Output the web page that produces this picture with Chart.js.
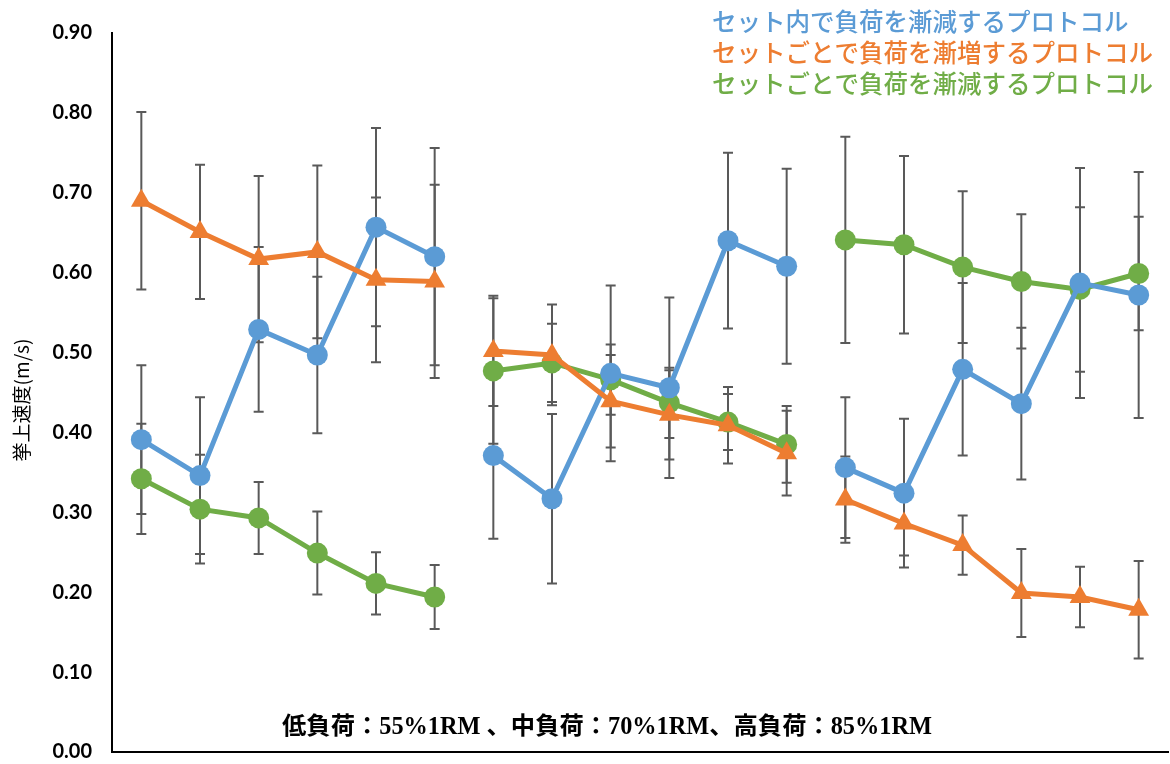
<!DOCTYPE html>
<html lang="ja">
<head>
<meta charset="utf-8">
<title>挙上速度</title>
<script src="https://cdn.jsdelivr.net/npm/chart.js@4.4.1/dist/chart.umd.min.js"></script>
<style>
  html, body { margin: 0; padding: 0; background: #fff; }
  #wrap { width: 1170px; height: 764px; position: relative; }
</style>
</head>
<body>
<div id="wrap"><canvas id="chart" width="1170" height="764"></canvas></div>
<script>
// カテゴリ（低・中・高負荷 × 6セット）
const categories = [
  '低1', '低2', '低3', '低4', '低5', '低6',
  '中1', '中2', '中3', '中4', '中5', '中6',
  '高1', '高2', '高3', '高4', '高5', '高6'
];
// 線を切る位置（この点の次で途切れる）
const groupBreaks = [5, 11];

const seriesNames = [
  'セット内で負荷を漸減するプロトコル',
  'セットごとで負荷を漸増するプロトコル',
  'セットごとで負荷を漸減するプロトコル'
];

// セット内で負荷を漸減
const withinDecrease = [0.391, 0.346, 0.529, 0.497, 0.657, 0.620,
                        0.371, 0.317, 0.474, 0.456, 0.640, 0.608,
                        0.356, 0.324, 0.479, 0.436, 0.587, 0.572];
const withinDecreaseSd = [0.093, 0.098, 0.103, 0.098, 0.124, 0.136,
                          0.104, 0.106, 0.110, 0.113, 0.110, 0.122,
                          0.088, 0.093, 0.108, 0.095, 0.144, 0.154];

// セットごとで負荷を漸増
const setIncrease = [0.690, 0.651, 0.617, 0.626, 0.591, 0.589,
                     0.502, 0.497, 0.439, 0.422, 0.409, 0.374,
                     0.316, 0.286, 0.259, 0.199, 0.194, 0.178];
const setIncreaseSd = [0.111, 0.084, 0.104, 0.108, 0.103, 0.121,
                       0.069, 0.063, 0.058, 0.056, 0.048, 0.053,
                       0.054, 0.040, 0.037, 0.055, 0.038, 0.061];

// セットごとで負荷を漸減
const setDecrease = [0.342, 0.304, 0.293, 0.249, 0.211, 0.194,
                     0.477, 0.487, 0.466, 0.437, 0.413, 0.385,
                     0.641, 0.635, 0.607, 0.589, 0.579, 0.599];
const setDecreaseSd = [0.069, 0.068, 0.045, 0.052, 0.039, 0.040,
                       0.091, 0.049, 0.044, 0.044, 0.035, 0.048,
                       0.129, 0.111, 0.095, 0.084, 0.103, 0.071];

const yTicks = [0.00, 0.10, 0.20, 0.30, 0.40, 0.50, 0.60, 0.70, 0.80, 0.90];
const yTitle = '挙上速度(m/s)';
const noteText = '低負荷：55%1RM 、中負荷：70%1RM、高負荷：85%1RM';

const colors = ['#5B9BD5', '#ED7D31', '#70AD47'];
const sdLists = [withinDecreaseSd, setIncreaseSd, setDecreaseSd];

function makeSet(i, values, shape, order) {
  return {
    label: seriesNames[i],
    data: values,
    borderColor: colors[i],
    backgroundColor: colors[i],
    borderWidth: 5,
    pointStyle: shape,
    pointRadius: shape === 'triangle' ? 12 : 10.5,
    pointBorderWidth: 0,
    pointHoverRadius: 10,
    tension: 0,
    order: order,
    segment: {
      borderColor: ctx => groupBreaks.includes(ctx.p0DataIndex) ? 'transparent' : undefined
    }
  };
}

// エラーバー
const errorBars = {
  id: 'errorBars',
  beforeDatasetsDraw(chart) {
    const ctx = chart.ctx;
    const y = chart.scales.y;
    ctx.save();
    ctx.strokeStyle = '#595959';
    ctx.lineWidth = 2;
    chart.data.datasets.forEach((ds, i) => {
      const meta = chart.getDatasetMeta(i);
      meta.data.forEach((pt, j) => {
        const v = ds.data[j];
        const sd = sdLists[i][j];
        const top = y.getPixelForValue(v + sd);
        const bot = y.getPixelForValue(v - sd);
        ctx.beginPath();
        ctx.moveTo(pt.x, top); ctx.lineTo(pt.x, bot);
        ctx.moveTo(pt.x - 5, top); ctx.lineTo(pt.x + 5, top);
        ctx.moveTo(pt.x - 5, bot); ctx.lineTo(pt.x + 5, bot);
        ctx.stroke();
      });
    });
    ctx.restore();
  }
};

// 凡例・注記・軸タイトル
const extras = {
  id: 'extras',
  afterDraw(chart) {
    const ctx = chart.ctx;
    ctx.save();
    ctx.textBaseline = 'middle';
    ctx.textAlign = 'left';
    ctx.font = '500 24.5px "Noto Sans CJK JP"';
    seriesNames.forEach((name, i) => {
      ctx.fillStyle = colors[i];
      ctx.fillText(name, 712, 22 + i * 31);
    });

    ctx.fillStyle = '#000';
    ctx.textAlign = 'center';
    ctx.font = 'bold 24.3px "Liberation Serif", "Noto Sans CJK JP"';
    ctx.fillText(noteText, 607, 728);

    ctx.translate(22, 400);
    ctx.rotate(-Math.PI / 2);
    ctx.font = '19px "Noto Sans CJK JP"';
    ctx.fillText(yTitle, 0, 0);
    ctx.restore();
  }
};

new Chart(document.getElementById('chart'), {
  type: 'line',
  data: {
    labels: categories,
    datasets: [
      makeSet(0, withinDecrease, 'circle', 1),
      makeSet(1, setIncrease, 'triangle', 0),
      makeSet(2, setDecrease, 'circle', 2)
    ]
  },
  options: {
    responsive: false,
    animation: false,
    layout: { autoPadding: false, padding: { top: 33, right: 2, bottom: 12, left: 0 } },
    plugins: {
      legend: { display: false },
      tooltip: { enabled: false }
    },
    scales: {
      x: {
        offset: true,
        grid: { display: false },
        ticks: { display: false },
        border: { color: '#000', width: 2 },
        afterFit: scale => { scale.height = 0; }
      },
      y: {
        min: 0,
        max: 0.9,
        afterBuildTicks: scale => { scale.ticks = yTicks.map(v => ({ value: v })); },
        afterFit: scale => {
          scale.width = 112;
          scale.paddingTop = 0;
          scale.paddingBottom = 0;
        },
        grid: { display: false },
        border: { color: '#000', width: 2 },
        ticks: {
          color: '#000',
          padding: 12,
          autoSkip: false,
          font: { family: 'Lato', weight: 'bold', size: 20 },
          callback: v => v.toFixed(2)
        }
      }
    }
  },
  plugins: [errorBars, extras]
});
</script>
</body>
</html>
